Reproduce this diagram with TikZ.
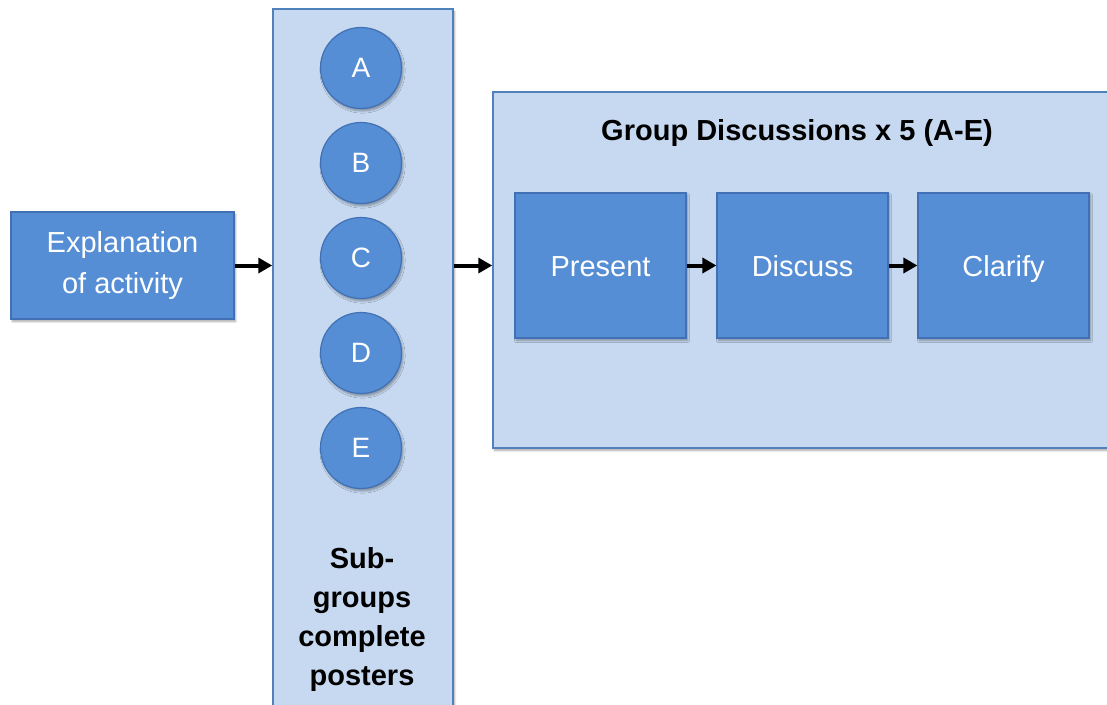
\documentclass[tikz,border=0pt]{standalone}
\usepackage{fontspec}
\setmainfont{Liberation Sans}
\usetikzlibrary{arrows.meta,shadows.blur}
\definecolor{darkfill}{RGB}{85,142,213}
\definecolor{darkline}{RGB}{65,113,180}
\definecolor{lightfill}{RGB}{198,217,240}
\definecolor{lightline}{RGB}{79,129,189}
\tikzset{
  shad/.style={blur shadow={shadow xshift=1.5pt, shadow yshift=-2.5pt, shadow blur steps=6, shadow opacity=35}},
  lightbox/.style={rectangle, draw=lightline, fill=lightfill, line width=1.5pt, inner sep=0pt, shad},
  darkbox/.style={rectangle, draw=darkline, fill=darkfill, line width=1.2pt, inner sep=0pt, text=white, font=\fontsize{29}{41}\selectfont, shad},
  stepbox/.style={darkbox, minimum width=171, minimum height=145, text height=21pt, text depth=0pt},
  circ/.style={circle, draw=darkline, fill=darkfill, line width=1.2pt, minimum size=81, inner sep=0pt, text=white, font=\fontsize{28}{32}\selectfont, shad},
  arr/.style={line width=4pt, -{Triangle[length=14pt,width=15pt]}},
  boldtext/.style={font=\bfseries\fontsize{29}{39}\selectfont, align=center}
}
\begin{document}
\begin{tikzpicture}[x=1pt,y=-1pt]
\useasboundingbox (0,0) rectangle (1107,704);
\clip (0,0) rectangle (1107,704);
% column of sub-groups
\node[lightbox, minimum width=180, minimum height=712] (col) at (363,365) {};
% big group discussion box
\node[lightbox, minimum width=617, minimum height=356] (big) at (801.5,270) {};
% explanation
\node[darkbox, align=center, minimum width=223, minimum height=107] (expl) at (122.5,265.5) {Explanation\\of activity};
% circles
\node[circ] (A) at (361,68) {A};
\node[circ] (B) at (361,163) {B};
\node[circ] (C) at (361,258) {C};
\node[circ] (D) at (361,353) {D};
\node[circ] (E) at (361,448) {E};
\node[boldtext] (sub) at (362,619) {Sub-\\groups\\complete\\posters};
% title
\node[boldtext] (title) at (797,133) {Group Discussions x 5 (A-E)};
% steps
\node[stepbox] (present) at (600.5,265.5) {Present};
\node[stepbox] (discuss) at (802.5,265.5) {Discuss};
\node[stepbox] (clarify) at (1003.5,265.5) {Clarify};
% arrows
\draw[arr] (expl.east) -- (col.west |- expl.east);
\draw[arr] (col.east |- present.west) -- (big.west |- present.west);
\draw[arr] (present.east) -- (discuss.west);
\draw[arr] (discuss.east) -- (clarify.west);
\end{tikzpicture}
\end{document}
